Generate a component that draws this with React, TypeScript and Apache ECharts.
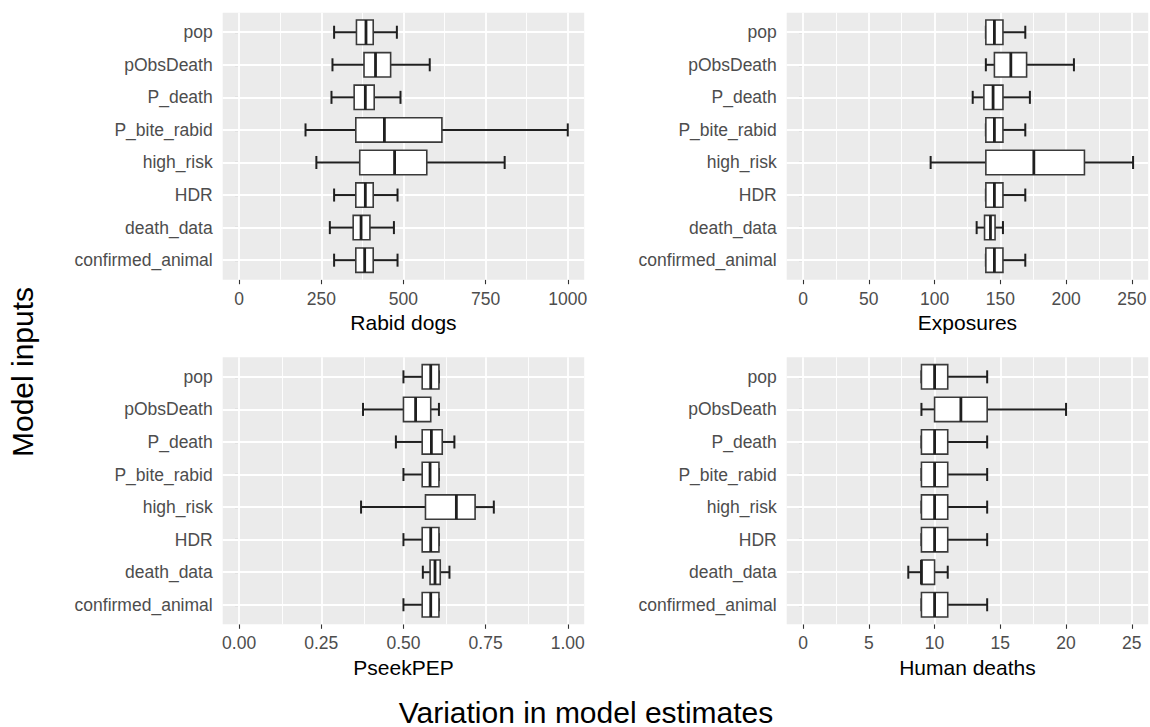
import React, { useEffect, useRef } from "react";
import * as echarts from "echarts";

const inputs = ["pop", "pObsDeath", "P_death", "P_bite_rabid", "high_risk", "HDR", "death_data", "confirmed_animal"];

// Rabid dogs
const dogsLow = [289, 284, 281, 202, 235, 289, 276, 289];
const dogsQ1 = [357, 380, 350, 355, 367, 355, 347, 355];
const dogsMed = [386, 415, 384, 442, 473, 384, 371, 382];
const dogsQ3 = [408, 461, 411, 617, 571, 408, 398, 408];
const dogsHigh = [480, 580, 491, 1000, 808, 482, 471, 482];
const dogsTicks = [0, 250, 500, 750, 1000];

// Exposures
const expLow = [139, 139, 129, 139, 97, 139, 132, 139];
const expQ1 = [139, 145.5, 137.5, 139, 139, 139, 138, 139];
const expMed = [145.5, 158, 144.5, 145.5, 175.5, 145.5, 142.5, 145.5];
const expQ3 = [152, 170, 152, 152, 214, 152, 146, 152];
const expHigh = [169, 206, 172.5, 169, 251, 169, 152, 169];
const expTicks = [0, 50, 100, 150, 200, 250];

// PseekPEP
const pepLow = [0.5, 0.377, 0.477, 0.5, 0.371, 0.5, 0.559, 0.5];
const pepQ1 = [0.557, 0.5, 0.557, 0.557, 0.567, 0.557, 0.581, 0.557];
const pepMed = [0.583, 0.537, 0.585, 0.581, 0.661, 0.583, 0.596, 0.583];
const pepQ3 = [0.608, 0.583, 0.618, 0.608, 0.718, 0.608, 0.612, 0.608];
const pepHigh = [0.608, 0.608, 0.655, 0.608, 0.775, 0.608, 0.64, 0.608];
const pepTicks = [0, 0.25, 0.5, 0.75, 1];

// Human deaths
const deathLow = [9, 9, 9, 9, 9, 9, 8, 9];
const deathQ1 = [9, 10, 9, 9, 9, 9, 9, 9];
const deathMed = [10, 12, 10, 10, 10, 10, 9, 10];
const deathQ3 = [11, 14, 11, 11, 11, 11, 10, 11];
const deathHigh = [14, 20, 14, 14, 14, 14, 11, 14];
const deathTicks = [0, 5, 10, 15, 20, 25];

const FONT = "'Liberation Sans', Arial, Helvetica, sans-serif";

const panels = [
  { title: "Rabid dogs", lo: dogsLow, q1: dogsQ1, md: dogsMed, q3: dogsQ3, hi: dogsHigh, ticks: dogsTicks, dec: 0, left: 222.7, top: 12.7 },
  { title: "Exposures", lo: expLow, q1: expQ1, md: expMed, q3: expQ3, hi: expHigh, ticks: expTicks, dec: 0, left: 786.7, top: 12.7 },
  { title: "PseekPEP", lo: pepLow, q1: pepQ1, md: pepMed, q3: pepQ3, hi: pepHigh, ticks: pepTicks, dec: 2, left: 222.7, top: 357.3 },
  { title: "Human deaths", lo: deathLow, q1: deathQ1, md: deathMed, q3: deathQ3, hi: deathHigh, ticks: deathTicks, dec: 0, left: 786.7, top: 357.3 },
];
const PW = 361.5;
const PH = 267;

function renderBox(params: any, api: any) {
  const y = api.value(0);
  const pLo = api.coord([api.value(1), y]);
  const pQ1 = api.coord([api.value(2), y]);
  const pMd = api.coord([api.value(3), y]);
  const pQ3 = api.coord([api.value(4), y]);
  const pHi = api.coord([api.value(5), y]);
  const bh = api.size([0, 0.75])[1];
  const ch = api.size([0, 0.4])[1];
  const cy = pLo[1];
  const wStyle = { stroke: "#1f1f1f", lineWidth: 2 };
  return {
    type: "group",
    children: [
      { type: "line", shape: { x1: pLo[0], y1: cy, x2: pQ1[0], y2: cy }, style: wStyle },
      { type: "line", shape: { x1: pQ3[0], y1: cy, x2: pHi[0], y2: cy }, style: wStyle },
      { type: "line", shape: { x1: pLo[0], y1: cy - ch / 2, x2: pLo[0], y2: cy + ch / 2 }, style: wStyle },
      { type: "line", shape: { x1: pHi[0], y1: cy - ch / 2, x2: pHi[0], y2: cy + ch / 2 }, style: wStyle },
      {
        type: "rect",
        shape: { x: pQ1[0], y: cy - bh / 2, width: pQ3[0] - pQ1[0], height: bh },
        style: { fill: "#ffffff", stroke: "#3a3a3a", lineWidth: 1.6 },
      },
      { type: "line", shape: { x1: pMd[0], y1: cy - bh / 2, x2: pMd[0], y2: cy + bh / 2 }, style: { stroke: "#1f1f1f", lineWidth: 2.8 } },
    ],
  };
}

export default function App() {
  const ref = useRef<HTMLDivElement>(null);
  useEffect(() => {
    if (!ref.current) return;
    const chart = echarts.init(ref.current, null, { renderer: "svg" });
    const catIdx = inputs.map((_, i) => i + 1);

    const grids: any[] = [];
    const xAxes: any[] = [];
    const yAxes: any[] = [];
    const series: any[] = [];
    const graphics: any[] = [];

    panels.forEach((p, k) => {
      const span = p.ticks[p.ticks.length - 1] - p.ticks[0];
      const minors = p.ticks.slice(1).map((t, i) => (t + p.ticks[i]) / 2);
      grids.push({
        left: p.left, top: p.top, width: PW, height: PH,
        show: true, backgroundColor: "#EBEBEB", borderWidth: 0, containLabel: false,
      });
      xAxes.push({
        type: "value", gridIndex: k,
        min: p.ticks[0] - 0.05 * span, max: p.ticks[p.ticks.length - 1] + 0.05 * span,
        axisLine: { show: false },
        splitLine: { show: false },
        axisTick: { show: true, customValues: p.ticks, length: 4.5, lineStyle: { color: "#333333", width: 1.1 } },
        axisLabel: {
          customValues: p.ticks, margin: 10, color: "#4D4D4D", fontSize: 17.5, fontFamily: FONT,
          formatter: (v: number) => v.toFixed(p.dec),
        },
      });
      yAxes.push({
        type: "value", gridIndex: k, min: 0.4, max: 8.6, inverse: true,
        axisLine: { show: false },
        splitLine: { show: false },
        axisTick: { show: true, customValues: catIdx, length: 4.5, lineStyle: { color: "#333333", width: 1.1 } },
        axisLabel: {
          customValues: catIdx, margin: 10, color: "#4D4D4D", fontSize: 17.5, fontFamily: FONT,
          formatter: (v: number) => inputs[Math.round(v) - 1] ?? "",
        },
      });
      series.push({
        type: "line", xAxisIndex: k, yAxisIndex: k, data: [], silent: true, z: 1,
        markLine: {
          silent: true, z: 1, symbol: ["none", "none"], label: { show: false }, animation: false,
          emphasis: { disabled: true },
          lineStyle: { color: "#ffffff", type: "solid", width: 1.8 },
          data: [
            ...minors.map((v) => ({ xAxis: v, lineStyle: { color: "#ffffff", type: "solid", width: 0.9 } })),
            ...p.ticks.map((v) => ({ xAxis: v })),
            ...catIdx.map((v) => ({ yAxis: v })),
          ],
        },
      });
      series.push({
        type: "custom", xAxisIndex: k, yAxisIndex: k, z: 3, silent: true,
        renderItem: renderBox,
        encode: { x: [1, 2, 3, 4, 5], y: 0 },
        data: inputs.map((_, i) => [i + 1, p.lo[i], p.q1[i], p.md[i], p.q3[i], p.hi[i]]),
      });
      graphics.push({
        type: "text", x: p.left + PW / 2, y: p.top + PH + 43,
        style: { text: p.title, fontSize: 21, fontFamily: FONT, fill: "#000000", align: "center", verticalAlign: "middle" },
      });
    });

    graphics.push({
      type: "text", x: 586, y: 712,
      style: { text: "Variation in model estimates", fontSize: 30, fontFamily: FONT, fill: "#000000", align: "center", verticalAlign: "middle" },
    });
    graphics.push({
      type: "text", x: 22, y: 372, rotation: Math.PI / 2,
      style: { text: "Model inputs", fontSize: 30, fontFamily: FONT, fill: "#000000", align: "center", verticalAlign: "middle" },
    });

    chart.setOption({
      animation: false,
      backgroundColor: "#ffffff",
      grid: grids,
      xAxis: xAxes,
      yAxis: yAxes,
      series,
      graphic: graphics,
    });
    return () => chart.dispose();
  }, []);
  return (
    <div
      ref={ref}
      style={{ position: "fixed", left: 0, top: 0, width: 1150, height: 727, background: "#fff" }}
    />
  );
}
